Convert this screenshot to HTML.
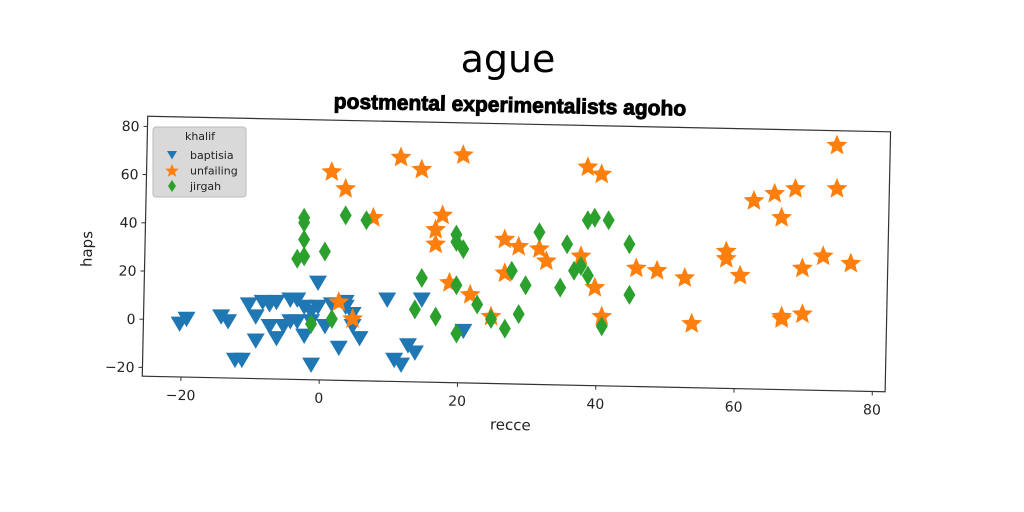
<!DOCTYPE html>
<html><head><meta charset="utf-8"><style>
html,body{margin:0;padding:0;background:#fff;width:1024px;height:512px;overflow:hidden}
svg{display:block;font-family:"DejaVu Sans","Liberation Sans",sans-serif}
</style></head><body>
<svg id="c" width="1024" height="512" viewBox="0 0 1024 512">
<text x="508" y="72" font-size="38" text-anchor="middle" fill="#000">ague</text>
<text x="510" y="112" font-size="21" font-weight="bold" text-anchor="middle" fill="#000" stroke="#000" stroke-width="0.9" font-family="'Liberation Sans Narrow','Liberation Sans',sans-serif" transform="rotate(1.2 510 105)">postmental experimentalists agoho</text>
<g id="plot" transform="rotate(1.2 516 250)"></g>
<g id="pts"></g>
</svg>
<script>
const xTicks=[-20,0,20,40,60,80];
const yTicks=[-20,0,20,40,60,80];
const bapX=[-20,-19,-14,-13,-12,-11,-9,-10,-9,-8,-7,-6,-5,-4,-3,-2,-1,-1,0,0,1,2,3,4,5,5,6,-1,10,12,11,13,14,15,21,-4,-3,-6,4,-1,-7,-2];
const bapY=[-2,0,1,-1,-17,-17,-9,6,1,7,-3,7,-3,8,8,5,3,-1,15,5,-3,6,-12,5,-3,2,-8,-19,8,-19,-17,-11,-14,8,-5,-1,-1,-8,7,3,6,-7];
const unfX=[2,4,12,15,21,8,18,17,17,3,5,19,22,25,27,29,27,32,33,38,40,41,39,41,46,49,53,54,59,59,61,63,66,67,69,67,67,70,70,73,75,75,77];
const unfY=[61,54,67,62,68,42,43,37,31,7,0,15,10,1,33,30,19,29,24,26,13,1,63,60,21,20,17,-2,25,28,18,49,52,42,54,0,1,2,21,26,72,54,23];
const jirX=[-2,-2,-2,-3,-2,1,4,7,-1,2,15,14,17,20,20,20,21,20,23,25,27,28,29,30,32,35,36,37,38,39,40,42,45,45,39,41];
const jirY=[42,40,33,25,26,28,43,41,-2,0,17,4,1,-6,32,35,29,14,6,0,-4,20,2,14,36,13,31,20,22,41,42,41,10,31,18,-3];
const NS="http://www.w3.org/2000/svg";
const g=document.getElementById('plot');
const pg=document.getElementById('pts');
const L=145,R=888,T=124,B=384;
const sx=v=>322+v*6.915;
const sy=v=>327-v*2.41;
const px=v=>318+v*6.92;
const py=v=>319-v*2.41;
function mk(tag,a,p){const e=document.createElementNS(NS,tag);for(const k in a)e.setAttribute(k,a[k]);(p||g).appendChild(e);return e;}
const frame=mk('rect',{x:L,y:T,width:R-L,height:B-T,fill:'none',stroke:'#333','stroke-width':1.2});


xTicks.forEach(t=>{
  const x=sx(t);
  const tk=mk('line',{x1:x,x2:x,y1:B,y2:B+4,stroke:'#333'});
  
  
  const lb=mk('text',{x:x,y:B+23,'font-size':14,'text-anchor':'middle',fill:'#222'});
  lb.textContent=t<0?'\u2212'+Math.abs(t):t;
  
  
});
yTicks.forEach(t=>{
  const y=sy(t);
  const tk=mk('line',{x1:L-4,x2:L,y1:y,y2:y,stroke:'#333'});
  
  
  const lb=mk('text',{x:L-8,y:y+5,'font-size':14,'text-anchor':'end',fill:'#222'});
  lb.textContent=t<0?'\u2212'+Math.abs(t):t;
  
  
});
const xl=mk('text',{x:514,y:B+46,'font-size':15,'text-anchor':'middle',fill:'#222'});
xl.textContent='recce';


const yl=mk('text',{x:92,y:258,'font-size':15,'text-anchor':'middle',fill:'#222',transform:'rotate(-90 92 258)'});
yl.textContent='haps';


function tri(x,y,s){return `${x-s},${y-s*0.8} ${x+s},${y-s*0.8} ${x},${y+s*0.9}`;}
function star(x,y,r){let p=[];for(let i=0;i<10;i++){const a=-Math.PI/2+i*Math.PI/5;const rr=i%2?r*0.45:r;p.push((x+rr*Math.cos(a)).toFixed(1)+','+(y+rr*Math.sin(a)).toFixed(1));}return p.join(' ');}
function dia(x,y,w,h){return `${x},${y-h} ${x+w},${y} ${x},${y+h} ${x-w},${y}`;}
bapX.forEach((v,i)=>{
  const m=mk('polygon',{points:tri(px(v),py(bapY[i]),9),fill:'#1f77b4'},pg);
  
  
});
unfX.forEach((v,i)=>{
  const m=mk('polygon',{points:star(px(v),py(unfY[i]),11),fill:'#ff7f0e'},pg);
  
  
});
jirX.forEach((v,i)=>{
  const m=mk('polygon',{points:dia(px(v),py(jirY[i]),6,10),fill:'#2ca02c'},pg);
  
  
});
const lg=mk('g',{},pg);


mk('rect',{x:153,y:127,width:93,height:70,rx:3,fill:'#d9d9d9',stroke:'#bbb'},lg);
const lt=mk('text',{x:200,y:140,'font-size':11,'text-anchor':'middle',fill:'#222'},lg);lt.textContent='khalif';


const ents=[['baptisia',()=>mk('polygon',{points:tri(172,155,5),fill:'#1f77b4'},lg)],['unfailing',()=>mk('polygon',{points:star(172,171,7),fill:'#ff7f0e'},lg)],['jirgah',()=>mk('polygon',{points:dia(172,186,4,6),fill:'#2ca02c'},lg)]];
ents.forEach((e,i)=>{
  e[1]();
  const t=mk('text',{x:190,y:159+i*15.5,'font-size':11,fill:'#222'},lg);t.textContent=e[0];
  
  
});
</script>
</body></html>
